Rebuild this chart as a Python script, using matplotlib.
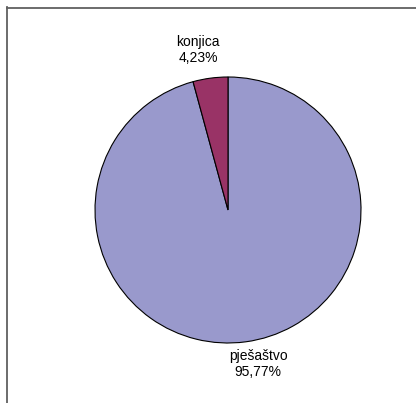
import matplotlib

matplotlib.use("Agg")

import matplotlib.pyplot as plt
from matplotlib.lines import Line2D

labels = ["pješaštvo", "konjica"]
shares = [95.77, 4.23]
pct_text = ["95,77%", "4,23%"]
colors = ["#9999CC", "#993366"]

W, H = 416, 403
fig = plt.figure(figsize=(W / 100, H / 100), dpi=100)
fig.patch.set_facecolor("white")

# axes in pixel units (y measured upward)
ax = fig.add_axes([0, 0, 1, 1])
ax.set_xlim(0, W)
ax.set_ylim(0, H)
ax.set_aspect("equal")
ax.axis("off")

cx, cy, r = 228, H - 210, 133
ax.pie(
    shares,
    colors=colors,
    startangle=90,
    counterclock=False,
    center=(cx, cy),
    radius=r,
    frame=True,
    wedgeprops=dict(edgecolor="black", linewidth=0.8),
)
ax.set_xlim(0, W)
ax.set_ylim(0, H)
ax.axis("off")

font = dict(family="Liberation Sans", fontsize=10, color="black",
            ha="center", va="center", linespacing=1.25)
label_pos = {"pješaštvo": (258, H - 364), "konjica": (198, H - 50)}
for name, pct in zip(labels, pct_text):
    x, y = label_pos[name]
    ax.text(x, y, f"{name}\n{pct}", **font)

# partial chart frame (top and left edges)
frame_kw = dict(color="#606060", linewidth=1.3, transform=fig.transFigure)
fig.add_artist(Line2D([7 / W, 1], [1 - 7.5 / H, 1 - 7.5 / H], **frame_kw))
fig.add_artist(Line2D([7.5 / W, 7.5 / W], [0, 1 - 7 / H], **frame_kw))

fig.savefig("out.png", dpi=100)
